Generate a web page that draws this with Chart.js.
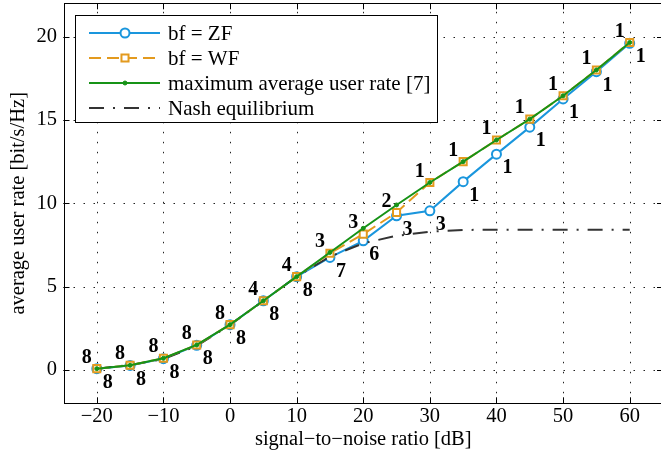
<!DOCTYPE html>
<html>
<head>
<meta charset="utf-8">
<script src="https://cdn.jsdelivr.net/npm/chart.js@4/dist/chart.umd.min.js"></script>
<style>
html, body { margin: 0; padding: 0; background: #fff; overflow: hidden; }
</style>
</head>
<body>
<div style="width:664px;height:464px"><canvas id="myChart" width="664" height="464"></canvas></div>
<script>
var snr = [-20, -15, -10, -5, 0, 5, 10, 15, 20, 25, 30, 35, 40, 45, 50, 55, 60];
var rateZF   = [0.08, 0.27, 0.68, 1.48, 2.72, 4.15, 5.6, 6.75, 7.75, 9.25, 9.55, 11.3, 12.95, 14.57, 16.26, 17.9, 19.6];
var rateWF   = [0.08, 0.28, 0.7, 1.5, 2.72, 4.15, 5.6, 7.0, 8.15, 9.45, 11.25, 12.5, 13.8, 15.05, 16.45, 18.0, 19.65];
var rateMax  = [0.08, 0.28, 0.7, 1.5, 2.72, 4.15, 5.6, 7.05, 8.5, 9.9, 11.25, 12.5, 13.8, 15.05, 16.45, 18.0, 19.65];
var rateNash = [0.08, 0.3, 0.65, 1.45, 2.7, 4.15, 5.6, 6.8, 7.6, 8.05, 8.3, 8.4, 8.42, 8.42, 8.42, 8.42, 8.42];
var labelsWF = [8, 8, 8, 8, 8, 4, 4, 3, 3, 2, 1, 1, 1, 1, 1, 1, 1];
var labelsZF = [8, 8, 8, 8, 8, 8, 8, 7, 6, 3, 3, 1, 1, 1, 1, 1, 1];
var xTicks = [-20, -10, 0, 10, 20, 30, 40, 50, 60];
var yTicks = [0, 5, 10, 15, 20];
var legendNames = ['bf = ZF', 'bf = WF', 'maximum average user rate [7]', 'Nash equilibrium'];

var SERIF = '"Liberation Serif", "Times New Roman", serif';
var BLUE = '#1a96dd', ORANGE = '#e39a1e', GREEN = '#179317', DARK = '#333333';

function pts(ys) {
    return snr.map(function(x, i) { return {x: x, y: ys[i]}; });
}
function minus(v) {
    return String(v).replace('-', '\u2212');
}

// grid, box and inward ticks like matlab
var framePlugin = {
    id: 'frame',
    beforeDatasetsDraw: function(chart) {
        var ctx = chart.ctx, a = chart.chartArea;
        var xs = chart.scales.x, ys = chart.scales.y;
        ctx.save();
        ctx.strokeStyle = '#222';
        ctx.lineWidth = 1;
        ctx.setLineDash([1.5, 8.5]);
        xTicks.forEach(function(v) {
            var px = Math.round(xs.getPixelForValue(v)) + 0.5;
            ctx.beginPath(); ctx.moveTo(px, a.bottom); ctx.lineTo(px, a.top); ctx.stroke();
        });
        yTicks.forEach(function(v) {
            var py = Math.round(ys.getPixelForValue(v)) + 0.5;
            ctx.beginPath(); ctx.moveTo(a.left, py); ctx.lineTo(a.right, py); ctx.stroke();
        });
        ctx.setLineDash([]);
        ctx.strokeStyle = '#000';
        ctx.beginPath();
        xTicks.forEach(function(v) {
            var px = Math.round(xs.getPixelForValue(v)) + 0.5;
            ctx.moveTo(px, a.bottom); ctx.lineTo(px, a.bottom - 6);
            ctx.moveTo(px, a.top); ctx.lineTo(px, a.top + 6);
        });
        yTicks.forEach(function(v) {
            var py = Math.round(ys.getPixelForValue(v)) + 0.5;
            ctx.moveTo(a.left, py); ctx.lineTo(a.left + 6, py);
            ctx.moveTo(a.right, py); ctx.lineTo(a.right - 6, py);
        });
        ctx.stroke();
        ctx.strokeRect(Math.round(a.left) + 0.5, Math.round(a.top) + 0.5,
                       Math.round(a.right - a.left), Math.round(a.bottom - a.top));
        ctx.restore();
    }
};

// number labels next to the points
var countPlugin = {
    id: 'counts',
    afterDatasetsDraw: function(chart) {
        var ctx = chart.ctx, xs = chart.scales.x, ys = chart.scales.y;
        ctx.save();
        ctx.font = 'bold 20px ' + SERIF;
        ctx.fillStyle = '#000';
        ctx.textAlign = 'center';
        ctx.textBaseline = 'middle';
        snr.forEach(function(x, i) {
            var px = xs.getPixelForValue(x);
            ctx.fillText(labelsWF[i], px - 10, ys.getPixelForValue(rateWF[i]) - 11);
            ctx.fillText(labelsZF[i], px + 11, ys.getPixelForValue(rateZF[i]) + 14);
        });
        ctx.restore();
    }
};

// legend box in the upper left corner
var legendPlugin = {
    id: 'boxLegend',
    afterDraw: function(chart) {
        var ctx = chart.ctx;
        var sets = chart.data.datasets;
        ctx.save();
        ctx.fillStyle = '#fff';
        ctx.fillRect(75.5, 15.5, 362, 107);
        ctx.strokeStyle = '#000';
        ctx.lineWidth = 1;
        ctx.strokeRect(75.5, 15.5, 362, 107);
        sets.forEach(function(ds, row) {
            var y = 33 + row * 25;
            ctx.strokeStyle = ds.borderColor;
            ctx.lineWidth = ds.borderWidth;
            ctx.setLineDash(ds.borderDash || []);
            ctx.beginPath(); ctx.moveTo(89, y); ctx.lineTo(160, y); ctx.stroke();
            ctx.setLineDash([]);
            if (ds.pointRadius > 0) {
                ctx.fillStyle = ds.pointBackgroundColor;
                ctx.strokeStyle = ds.borderColor;
                ctx.lineWidth = ds.pointBorderWidth;
                ctx.beginPath();
                if (ds.pointStyle === 'rect') {
                    var s = Math.SQRT1_2 * ds.pointRadius;
                    ctx.rect(125 - s, y - s, 2 * s, 2 * s);
                } else {
                    ctx.arc(125, y, ds.pointRadius, 0, Math.PI * 2);
                }
                ctx.fill(); ctx.stroke();
            }
            ctx.fillStyle = '#000';
            ctx.font = '21px ' + SERIF;
            ctx.textAlign = 'left';
            ctx.textBaseline = 'middle';
            ctx.fillText(legendNames[row], 168, y + 1);
        });
        ctx.restore();
    }
};

var ctx = document.getElementById('myChart').getContext('2d');
var chart = new Chart(ctx, {
    type: 'line',
    data: {
        datasets: [{
            label: legendNames[0],
            data: pts(rateZF),
            borderColor: BLUE,
            borderWidth: 2,
            pointStyle: 'circle',
            pointRadius: 4.5,
            pointBorderWidth: 2,
            pointBackgroundColor: '#fff',
            pointBorderColor: BLUE,
            order: 4
        }, {
            label: legendNames[1],
            data: pts(rateWF),
            borderColor: ORANGE,
            borderWidth: 2,
            borderDash: [12, 6],
            pointStyle: 'rect',
            pointRadius: 5,
            pointBorderWidth: 2,
            pointBackgroundColor: '#fff',
            pointBorderColor: ORANGE,
            order: 2
        }, {
            label: legendNames[2],
            data: pts(rateMax),
            borderColor: GREEN,
            borderWidth: 2,
            pointStyle: 'circle',
            pointRadius: 2,
            pointBorderWidth: 1,
            pointBackgroundColor: GREEN,
            pointBorderColor: GREEN,
            order: 1
        }, {
            label: legendNames[3],
            data: pts(rateNash),
            borderColor: DARK,
            borderWidth: 2,
            borderDash: [15, 9, 2, 9],
            pointRadius: 0,
            order: 3
        }]
    },
    options: {
        responsive: false,
        animation: false,
        layout: { autoPadding: false, padding: { top: 3.3, right: 1, left: 0, bottom: 0 } },
        plugins: {
            legend: { display: false },
            tooltip: { enabled: false }
        },
        elements: { line: { tension: 0 } },
        scales: {
            x: {
                type: 'linear',
                min: -25,
                max: 65,
                afterFit: function(s) { s.height = 60.7; s.paddingLeft = 0; s.paddingRight = 0; },
                afterBuildTicks: function(s) { s.ticks = xTicks.map(function(v) { return {value: v}; }); },
                grid: { display: false, drawTicks: false },
                border: { display: false },
                ticks: {
                    padding: 1,
                    color: '#000',
                    font: { family: SERIF, size: 20.5 },
                    maxRotation: 0,
                    callback: function(v) { return minus(v); }
                },
                title: {
                    display: true,
                    text: 'signal\u2212to\u2212noise ratio [dB]',
                    color: '#000',
                    font: { family: SERIF, size: 20.5 },
                    padding: { top: 0, bottom: 12 }
                }
            },
            y: {
                min: -2,
                max: 22,
                afterFit: function(s) { s.width = 63.5; s.paddingTop = 0; s.paddingBottom = 0; },
                afterBuildTicks: function(s) { s.ticks = yTicks.map(function(v) { return {value: v}; }); },
                grid: { display: false, drawTicks: false },
                border: { display: false },
                ticks: {
                    padding: 6.5,
                    color: '#000',
                    font: { family: SERIF, size: 20.5 },
                    callback: function(v) { return minus(v); }
                },
                title: {
                    display: true,
                    text: 'average user rate [bit/s/Hz]',
                    color: '#000',
                    font: { family: SERIF, size: 20.5 },
                    padding: { top: 6, bottom: 0 }
                }
            }
        }
    },
    plugins: [framePlugin, countPlugin, legendPlugin]
});
</script>
</body>
</html>
